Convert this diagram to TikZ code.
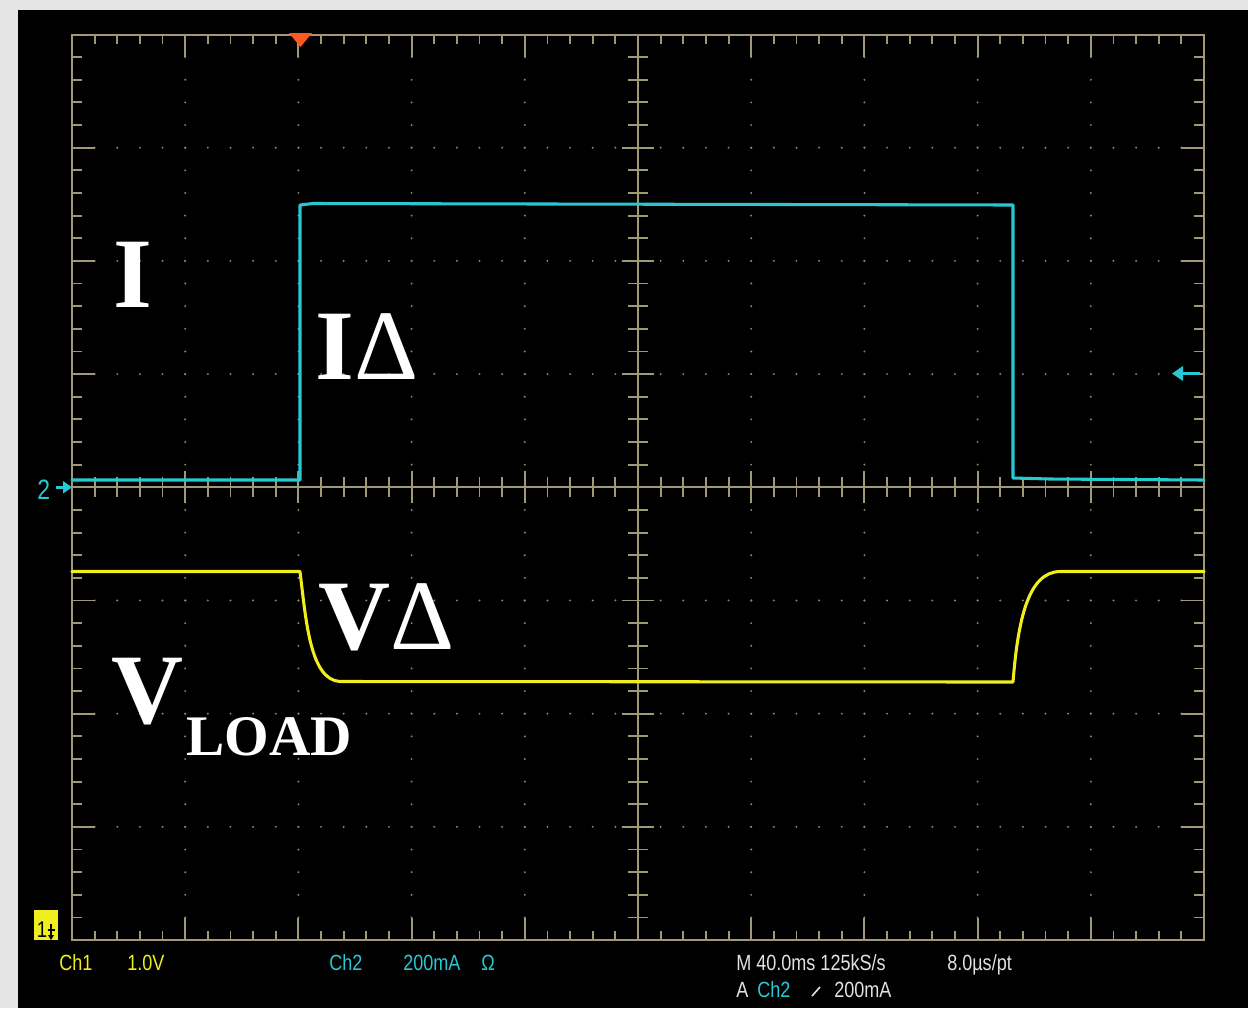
\documentclass[tikz,border=0pt]{standalone}
\usepackage{fontspec}
\setmainfont{Liberation Serif}
\newfontfamily\oscfont{Liberation Sans}
\definecolor{bggrey}{RGB}{228,228,228}
\definecolor{grat}{RGB}{160,152,118}
\definecolor{gdot}{RGB}{135,132,115}
\definecolor{cyanT}{RGB}{40,200,210}
\definecolor{yelT}{RGB}{240,238,30}
\definecolor{trigT}{RGB}{255,90,30}
\definecolor{ltxt}{RGB}{225,225,225}
\newcommand{\osctxt}[1]{\scalebox{0.82}[1]{#1}}
\begin{document}
\begin{tikzpicture}[x=0.75pt,y=-0.75pt,
  tickln/.style={draw=grat, line width=1.4pt},
  framebox/.style={draw=grat, line width=1.5pt},
  trace/.style={line width=2.3pt, line join=round, line cap=round},
  biglbl/.style={text=white, inner sep=0pt, anchor=base west, font=\fontsize{74.8}{80}\selectfont\bfseries},
  sublbl/.style={text=white, inner sep=0pt, anchor=base west, font=\fontsize{43}{48}\selectfont\bfseries},
  rdout/.style={inner sep=0pt, anchor=base west, font=\oscfont\fontsize{16.5}{18}\selectfont}]
\useasboundingbox (0,0) rectangle (1248,1008);
\fill[bggrey] (0,0) rectangle (1248,1008);
\fill[black] (18,10) rectangle (1248,1008);
% dotted grid
\foreach \i in {1,2,3,4,6,7,8,9}{
  \foreach \k in {1,...,39}{
    \fill[gdot] ({72+113.2*\i},{34.5+22.64*\k}) circle (1.1);
  }
}
\foreach \j in {1,2,3,5,6,7}{
  \foreach \k in {1,...,49}{
    \fill[gdot] ({72+22.64*\k},{34.5+113.19*\j}) circle (1.1);
  }
}
% ticks along horizontal edges and centre axis
\foreach \k in {1,...,49}{
  \pgfmathsetmacro{\xx}{72+22.64*\k}
  \pgfmathsetmacro{\L}{mod(\k,5)==0 ? 22 : 9}
  \pgfmathsetmacro{\C}{mod(\k,5)==0 ? 16 : 10}
  \draw[tickln] (\xx,34.5) -- ++(0,\L);
  \draw[tickln] (\xx,940) -- ++(0,-\L);
  \draw[tickln] (\xx,{487.25-\C}) -- (\xx,{487.25+\C});
}
\foreach \k in {1,...,39}{
  \pgfmathsetmacro{\yy}{34.5+22.64*\k}
  \pgfmathsetmacro{\L}{mod(\k,5)==0 ? 23 : 10}
  \pgfmathsetmacro{\C}{mod(\k,5)==0 ? 16 : 10}
  \draw[tickln] (72,\yy) -- ++(\L,0);
  \draw[tickln] (1204,\yy) -- ++(-\L,0);
  \draw[tickln] ({638-\C},\yy) -- ({638+\C},\yy);
}
\draw[framebox] (72,34.5) rectangle (1204,940);
\draw[framebox] (72,487.25) -- (1204,487.25);
\draw[framebox] (638,34.5) -- (638,940);
% trigger position marker
\fill[trigT] (289,33) -- (312,33) -- (300.5,47) -- cycle;
% traces
\draw[trace, cyanT] (72,480) -- (300,480) -- (300,205) -- (313,203.5) -- (1013,205) -- (1013,478) -- (1050,479) -- (1204,480);
\draw[trace, yelT] (72,571.5) -- (300,571.5) .. controls (306,620) and (310,680) .. (340,681.5) -- (1013,682) .. controls (1018,620) and (1028,572) .. (1060,571.5) -- (1204,571.5);
% channel 2 marker (left)
\node[rdout, text=cyanT, font=\oscfont\fontsize{21}{22}\selectfont] (mk2) at (37,499.5) {\osctxt{2}};
\draw[cyanT, line width=2pt] (56,487.25) -- (65,487.25);
\fill[cyanT] (63,481) -- (72,487.25) -- (63,493.5) -- cycle;
% trigger level marker (right)
\draw[cyanT, line width=2.3pt] (1180,373.5) -- (1200,373.5);
\fill[cyanT] (1183,366) -- (1172,373.5) -- (1183,381) -- cycle;
% channel 1 marker
\fill[yelT] (33.5,909.5) rectangle (58,940);
\node[rdout, text=black, font=\oscfont\fontsize{17}{18}\selectfont] (mk1) at (36.5,937) {\osctxt{1}};
\draw[black, line width=1.1pt] (51,924) -- (51,936);
\draw[black, line width=1.1pt] (47.5,930) -- (54.5,930);
\fill[black] (48,935) -- (54,935) -- (51,940) -- cycle;
% big labels
\node[biglbl] (lblI) at (113,307) {I};
\node[biglbl] (lblID) at (315,379) {I{\mdseries Δ}};
\node[biglbl] (lblVD) at (318.5,649) {V{\mdseries Δ}};
\node[biglbl] (lblV) at (111.5,723) {V};
\node[sublbl] (lblLoad) at (186,755) {LOAD};
% readouts
\node[rdout, text=yelT] (ch1) at (59,970) {\osctxt{Ch1}};
\node[rdout, text=yelT] (ch1v) at (127,970) {\osctxt{1.0V}};
\node[rdout, text=cyanT] (ch2) at (329,970) {\osctxt{Ch2}};
\node[rdout, text=cyanT] (ch2a) at (403,970) {\osctxt{200mA}};
\node[rdout, text=cyanT] (ohm) at (481,970) {\osctxt{Ω}};
\node[rdout, text=ltxt] (mtime) at (736,970) {\osctxt{M 40.0ms 125kS/s}};
\node[rdout, text=ltxt] (perpt) at (947,970) {\osctxt{8.0µs/pt}};
\node[rdout, text=ltxt] (atxt) at (736,997) {\osctxt{A}};
\node[rdout, text=cyanT] (ach2) at (757,997) {\osctxt{Ch2}};
\draw[ltxt, line width=1.2pt] (812,996) -- (820,987);
\node[rdout, text=ltxt] (a200) at (834,997) {\osctxt{200mA}};
\end{tikzpicture}
\end{document}
